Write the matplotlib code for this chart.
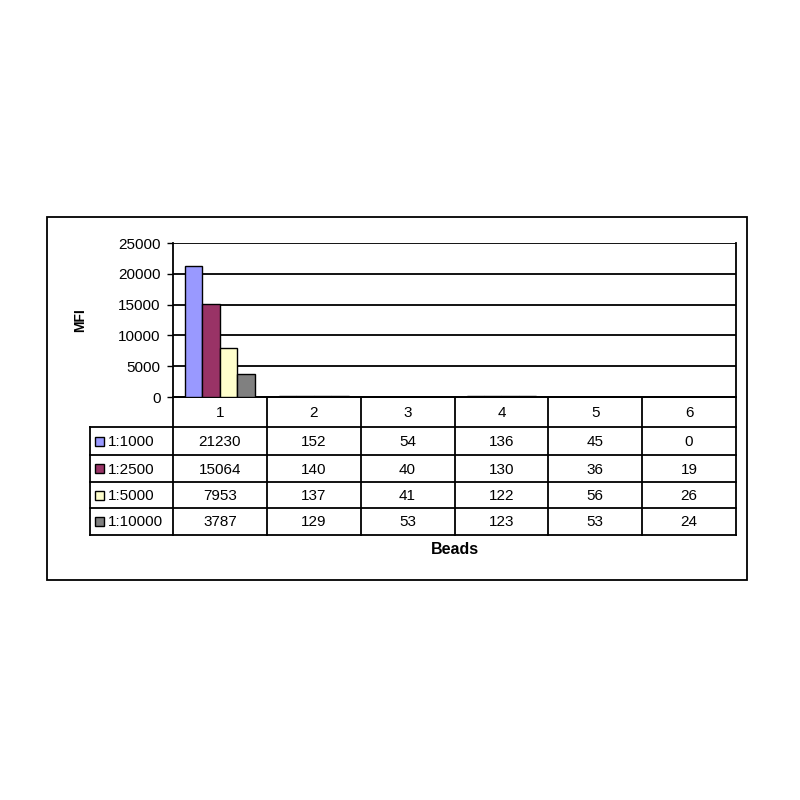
import numpy as np
import matplotlib
matplotlib.use("Agg")
import matplotlib.pyplot as plt
from matplotlib.patches import Rectangle

plt.rcParams['font.family'] = ['Liberation Sans', 'DejaVu Sans']

beads = ['1', '2', '3', '4', '5', '6']
dilutions = ['1:1000', '1:2500', '1:5000', '1:10000']
mfi_1000 = [21230, 152, 54, 136, 45, 0]
mfi_2500 = [15064, 140, 40, 130, 36, 19]
mfi_5000 = [7953, 137, 41, 122, 56, 26]
mfi_10000 = [3787, 129, 53, 123, 53, 24]
series = [mfi_1000, mfi_2500, mfi_5000, mfi_10000]
colors = ['#9999FF', '#993366', '#FFFFCC', '#808080']
yticks = [0, 5000, 10000, 15000, 20000, 25000]

W = H = 800
fs = 11
fig = plt.figure(figsize=(8, 8), dpi=100)

# overlay in pixel coords for frame and data table
ov = fig.add_axes([0, 0, 1, 1])
ov.set_xlim(0, W)
ov.set_ylim(H, 0)
ov.axis('off')

# plot area (pixels)
px0, px1 = 173, 736
py0, py1 = 243, 397
ax = fig.add_axes([px0 / W, 1 - py1 / H, (px1 - px0) / W, (py1 - py0) / H])

n = len(beads)
x = np.arange(n)
bw = 0.186
for j, (vals, c) in enumerate(zip(series, colors)):
    ax.bar(x + (j - 1.5) * bw, vals, bw, color=c, edgecolor='black',
           linewidth=1.0, zorder=3)

ax.set_xlim(-0.5, n - 0.5)
ax.set_ylim(0, 25000)
ax.set_yticks(yticks)
ax.set_yticklabels([str(v) for v in yticks], fontsize=fs)
ax.set_xticks([])
ax.yaxis.grid(True, color='black', linewidth=1.3, zorder=0)
ax.tick_params(axis='y', length=4, width=1, pad=5)
for s in ['left', 'right']:
    ax.spines[s].set_linewidth(1.3)
ax.spines['top'].set_visible(False)
ax.spines['bottom'].set_linewidth(1.3)
ax.set_ylabel('MFI', fontsize=10, fontweight='bold', labelpad=22)

# outer chart border
ov.add_patch(Rectangle((47, 217), 700, 363, fill=False, edgecolor='black',
                       linewidth=1.3))

# data table
col_w = (px1 - px0) / n
lab_x0 = 90
row_y = [397, 427, 455, 482, 508, 535]
lw = 1.3
# horizontal lines
ov.plot([px0, px1], [row_y[0], row_y[0]], color='black', lw=lw)
for y in row_y[1:]:
    ov.plot([lab_x0, px1], [y, y], color='black', lw=lw)
# vertical lines
ov.plot([lab_x0, lab_x0], [row_y[1], row_y[-1]], color='black', lw=lw)
for i in range(n + 1):
    xv = px0 + i * col_w
    ov.plot([xv, xv], [row_y[0], row_y[-1]], color='black', lw=lw)

# header row
for i, b in enumerate(beads):
    ov.text(px0 + (i + 0.5) * col_w, (row_y[0] + row_y[1]) / 2 + 1, b,
            ha='center', va='center', fontsize=fs)

# series rows
for r, (name, vals, c) in enumerate(zip(dilutions, series, colors)):
    yc = (row_y[r + 1] + row_y[r + 2]) / 2
    ov.add_patch(Rectangle((95, yc - 4.5), 9, 9, facecolor=c,
                           edgecolor='black', linewidth=1.0))
    ov.text(108, yc + 1, name, ha='left', va='center', fontsize=fs)
    for i, v in enumerate(vals):
        ov.text(px0 + (i + 0.5) * col_w, yc + 1, str(v),
                ha='center', va='center', fontsize=fs)

ov.text(455, 550, 'Beads', ha='center', va='center', fontsize=11.5,
        fontweight='bold')

fig.savefig('out.png', dpi=100)
